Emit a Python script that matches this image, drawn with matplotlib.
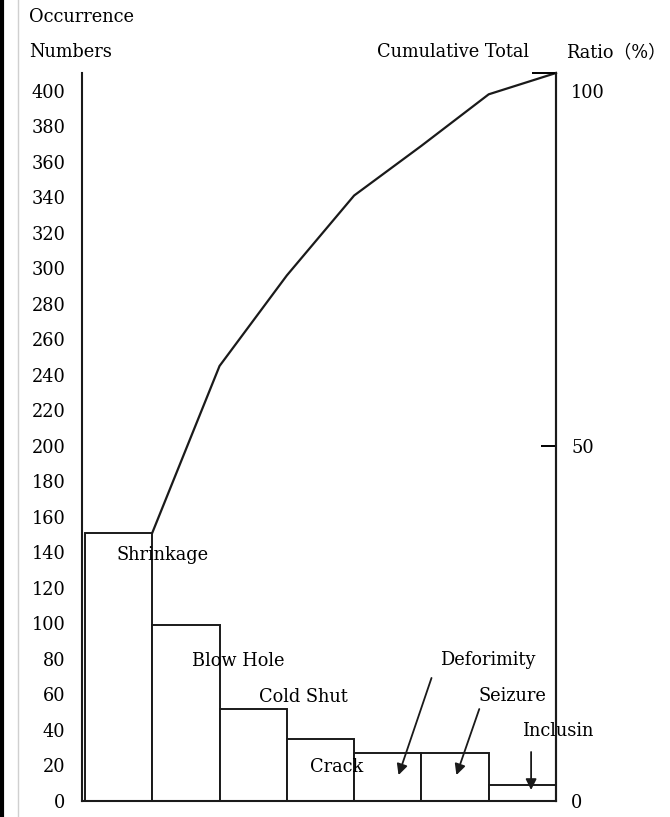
import matplotlib
matplotlib.use("Agg")
import matplotlib.pyplot as plt
from matplotlib.lines import Line2D
import numpy as np

# ---- data ----
categories = ["Shrinkage", "Blow Hole", "Cold Shut", "Crack", "Deforimity", "Seizure", "Inclusin"]
occurrences = [151, 99, 52, 35, 27, 27, 9]
cumulative_numbers = [151, 245, 296, 341, 369, 398, 410]   # cumulative curve as drawn
left_ticks = list(range(0, 401, 20))
right_ticks = [0, 50, 100]

FONT = ["DejaVu Serif", "Noto Sans CJK JP"]
plt.rcParams["font.family"] = FONT
FS = 12.8

W, H = 670, 817
fig = plt.figure(figsize=(W / 100, H / 100), dpi=100)
fig.patch.set_facecolor("white")

def fx(px):
    return px / W

def fy(py):
    return 1 - py / H

left_px, right_px, top_px, bot_px = 82, 556, 73, 801
ax = fig.add_axes([fx(left_px), fy(bot_px), fx(right_px - left_px), (bot_px - top_px) / H])

x = np.arange(len(categories))
ymax = 410
ax.set_ylim(0, ymax)
ax.set_xlim(-0.544, len(categories) - 0.5)

ax.bar(x, occurrences, width=1.0, facecolor="white", edgecolor="#1a1a1a", linewidth=1.4, zorder=2)

# cumulative line from right edge of each bar
ax.plot(x + 0.5, cumulative_numbers, color="#1a1a1a", linewidth=1.6, zorder=3, clip_on=False)

ax.spines["top"].set_visible(False)
for s in ["left", "bottom", "right"]:
    ax.spines[s].set_linewidth(1.5)
    ax.spines[s].set_color("#1a1a1a")

ax.set_xticks([])
ax.set_yticks(left_ticks)
ax.set_yticklabels([str(v) for v in left_ticks], fontsize=FS)
ax.tick_params(axis="y", length=0, pad=12)

# right axis: 100 % equals 400 occurrences
ax2 = ax.twinx()
ax2.set_ylim(0, ymax / 4)
ax2.set_yticks(right_ticks)
ax2.set_yticklabels([str(v) for v in right_ticks], fontsize=FS)
ax2.tick_params(axis="y", direction="in", length=11, width=1.4, pad=11)
ax2.set_yticks([cumulative_numbers[-1] / 4], minor=True)
ax2.tick_params(axis="y", which="minor", direction="in", length=17, width=1.4)
for s in ["top", "left", "bottom"]:
    ax2.spines[s].set_visible(False)
ax2.spines["right"].set_linewidth(1.5)
ax2.spines["right"].set_color("#1a1a1a")
ticks = ax2.yaxis.get_major_ticks()
ticks[0].tick2line.set_visible(False)
ticks[2].tick2line.set_visible(False)

# category labels
label_pos = {
    "Shrinkage": (0.66, 138.5),
    "Blow Hole": (1.78, 78.8),
    "Cold Shut": (2.75, 58.6),
    "Crack": (3.24, 19.1),
}
for name, (tx, ty) in label_pos.items():
    ax.text(tx, ty, name, ha="center", va="center", fontsize=FS, zorder=4)

arrow_labels = {
    "Deforimity": ((5.49, 79.4), (4.65, 69.3), (4.16, 14.6)),
    "Seizure": ((5.85, 59.1), (5.36, 51.8), (5.02, 14.6)),
    "Inclusin": ((6.52, 39.4), (6.13, 27.6), (6.13, 6.2)),
}
for name, (tpos, start, end) in arrow_labels.items():
    ax.text(tpos[0], tpos[1], name, ha="center", va="center", fontsize=FS, zorder=4, clip_on=False)
    ax.annotate("", xy=end, xytext=start,
                arrowprops=dict(arrowstyle="-|>", color="#1a1a1a", lw=1.3, mutation_scale=16,
                                shrinkA=0, shrinkB=0), zorder=4)

# header texts
fig.text(fx(29), fy(22), "Occurrence", ha="left", va="baseline", fontsize=FS)
fig.text(fx(29), fy(57), "Numbers", ha="left", va="baseline", fontsize=FS)
fig.text(fx(377), fy(57), "Cumulative Total", ha="left", va="baseline", fontsize=FS)
fig.text(fx(566), fy(57), "Ratio（%）", ha="left", va="baseline", fontsize=FS, family=FONT)

# frame artefacts at left edge
fig.add_artist(Line2D([fx(2), fx(2)], [0, 1], color="black", linewidth=3))
fig.add_artist(Line2D([fx(18), fx(18)], [0, 1], color="#d0d0d0", linewidth=1))

fig.savefig("out.png", dpi=100, facecolor="white")
